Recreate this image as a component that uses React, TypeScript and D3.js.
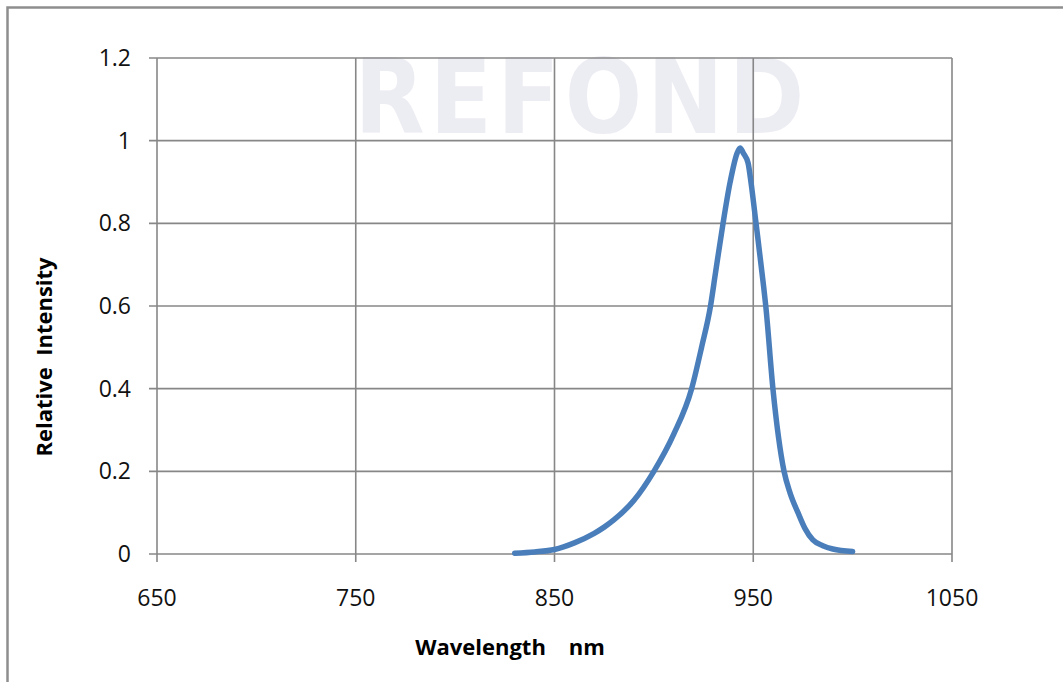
import React from "react";
import * as d3 from "d3";

const wavelengths = [830, 840, 850, 860, 870, 875, 880, 890, 900, 910, 919, 924, 928.5, 931, 934.8, 938.3, 941.9, 943.4, 945, 947.4, 948.9, 951.4, 955, 956.3, 959.9, 965.5, 968.5, 972.5, 976, 980, 985, 990, 1000];
const intensity = [0.002, 0.005, 0.011, 0.027, 0.05, 0.065, 0.083, 0.13, 0.2, 0.29, 0.4, 0.5, 0.6, 0.68, 0.8, 0.898, 0.97, 0.982, 0.97, 0.946, 0.898, 0.8, 0.656, 0.6, 0.4, 0.2, 0.148, 0.1, 0.062, 0.034, 0.02, 0.012, 0.006];
const xTicks = [650, 750, 850, 950, 1050];
const yTicks = [0, 0.2, 0.4, 0.6, 0.8, 1, 1.2];
const xTitle = "Wavelength    nm";
const yTitle = "Relative  Intensity";
const watermark = "REFOND";

export default function App() {
  const W = 1063, H = 682;
  const left = 157, right = 952, top = 58, bottom = 554;
  const x = d3.scaleLinear().domain([650, 1050]).range([left, right]);
  const y = d3.scaleLinear().domain([0, 1.2]).range([bottom, top]);
  const pts = wavelengths.map((w, i) => [w, intensity[i]] as [number, number]);
  const line = d3.line<[number, number]>().x(d => x(d[0])).y(d => y(d[1])).curve(d3.curveMonotoneX);
  const grid = "#878787";
  const tickFont = "'Open Sans', sans-serif";
  return (
    <svg width={W} height={H} style={{ position: "absolute", left: 0, top: 0, background: "#fff" }}>
      <rect x={7.5} y={7.5} width={1062} height={690} fill="#fff" stroke="#8e8e8e" strokeWidth={2.5} />
      <text x={582} y={133} textAnchor="middle" fontFamily="'DejaVu Sans', sans-serif" fontWeight="bold" fontSize={104} fill="#ececf3" letterSpacing={6} textLength={455} lengthAdjust="spacingAndGlyphs">{watermark}</text>
      {yTicks.map(t => (
        <g key={"y" + t}>
          <line x1={left - 8} x2={right} y1={y(t)} y2={y(t)} stroke={grid} strokeWidth={1.6} />
          <text x={131} y={y(t)} dy="0.35em" textAnchor="end" fontFamily={tickFont} fontSize={23} fill="#111">{String(t)}</text>
        </g>
      ))}
      {xTicks.map(t => (
        <g key={"x" + t}>
          <line x1={x(t)} x2={x(t)} y1={top} y2={bottom + 8} stroke={grid} strokeWidth={1.6} />
          <text x={x(t)} y={598} dy="0.35em" textAnchor="middle" fontFamily={tickFont} fontSize={23} fill="#111">{String(t)}</text>
        </g>
      ))}
      <path d={line(pts) || ""} fill="none" stroke="#4a7ebb" strokeWidth={5.5} strokeLinecap="round" strokeLinejoin="round" />
      <text x={510} y={647} dy="0.35em" textAnchor="middle" fontFamily={tickFont} fontWeight="bold" fontSize={22} fill="#000" style={{ whiteSpace: "pre" }}>{xTitle}</text>
      <text transform={`translate(44,357) rotate(-90)`} dy="0.35em" textAnchor="middle" fontFamily={tickFont} fontWeight="bold" fontSize={22} fill="#000" style={{ whiteSpace: "pre" }}>{yTitle}</text>
    </svg>
  );
}
